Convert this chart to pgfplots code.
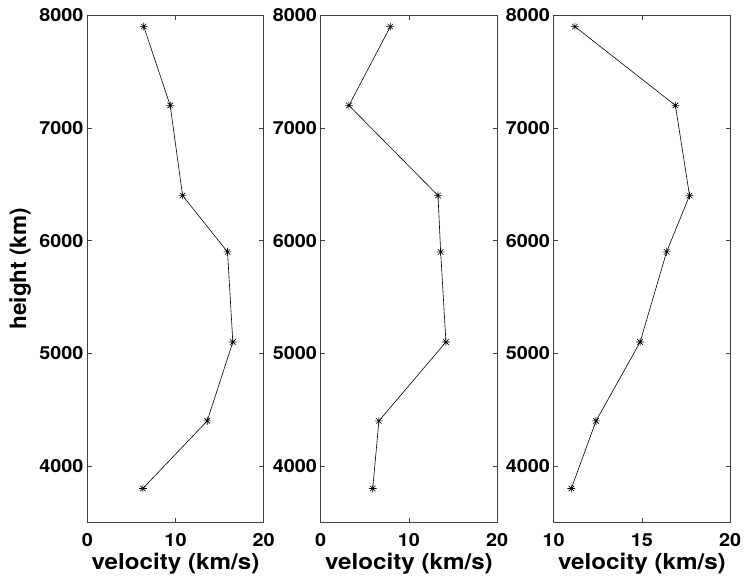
\documentclass[border=0pt]{standalone}
\usepackage{fontspec}
\setmainfont{TeX Gyre Heros}
\usepackage{pgfplots}
\pgfplotsset{compat=1.18}

\pgfdeclareplotmark{ast8}{%
 \pgfpathmoveto{\pgfqpoint{-\pgfplotmarksize}{0pt}}\pgfpathlineto{\pgfqpoint{\pgfplotmarksize}{0pt}}%
 \pgfpathmoveto{\pgfqpoint{0pt}{-\pgfplotmarksize}}\pgfpathlineto{\pgfqpoint{0pt}{\pgfplotmarksize}}%
 \pgfpathmoveto{\pgfqpoint{-0.7071\pgfplotmarksize}{-0.7071\pgfplotmarksize}}\pgfpathlineto{\pgfqpoint{0.7071\pgfplotmarksize}{0.7071\pgfplotmarksize}}%
 \pgfpathmoveto{\pgfqpoint{-0.7071\pgfplotmarksize}{0.7071\pgfplotmarksize}}\pgfpathlineto{\pgfqpoint{0.7071\pgfplotmarksize}{-0.7071\pgfplotmarksize}}%
 \pgfusepathqstroke}

\pgfplotsset{panel/.style={
  scale only axis, width=176.4pt, height=507pt, anchor=south west,
  xmin=0, xmax=20, ymin=3500, ymax=8000,
  xtick={0,10,20}, ytick={4000,5000,6000,7000,8000},
  tick align=inside, major tick length=4.5pt,
  axis line style={black!75, line width=0.8pt},
  every tick/.style={black!75, line width=0.8pt},
  scaled y ticks=false,
  /pgf/number format/1000 sep={},
  /pgf/number format/assume math mode=true,
  tick label style={font=\fontsize{18}{18}\selectfont\bfseries, xscale=1.1},
  xticklabel style={yshift=-7.5pt},
  xlabel={velocity (km/s)},
  xlabel style={font=\fontsize{22}{22}\selectfont\bfseries, xscale=1.1, at={(axis description cs:0.5,0)}, anchor=center, yshift=-41pt},
}}
\pgfplotsset{pl/.style={black, line width=0.6pt, mark=ast8, mark size=3.9pt, mark options={solid}}}

\begin{document}
\begin{tikzpicture}
\useasboundingbox (0,0) rectangle (747pt,580pt);
\begin{axis}[panel, at={(87.3pt,57.7pt)},
  ylabel={height (km)},
  ylabel style={font=\fontsize{22.5}{22.5}\selectfont\bfseries, at={(axis description cs:-0.381,0.5)}, anchor=center}]
\addplot[pl] coordinates {(6.4,7900) (9.4,7200) (10.8,6400) (15.9,5900) (16.5,5100) (13.6,4400) (6.3,3800)};
\end{axis}
\begin{axis}[panel, at={(320.7pt,57.7pt)}]
\addplot[pl] coordinates {(7.9,7900) (3.2,7200) (13.3,6400) (13.6,5900) (14.2,5100) (6.6,4400) (5.9,3800)};
\end{axis}
\begin{axis}[panel, at={(553.7pt,57.7pt)}, xmin=10, xmax=20, xtick={10,15,20}]
\addplot[pl] coordinates {(11.2,7900) (16.9,7200) (17.7,6400) (16.4,5900) (14.9,5100) (12.4,4400) (11.0,3800)};
\end{axis}
\end{tikzpicture}
\end{document}
